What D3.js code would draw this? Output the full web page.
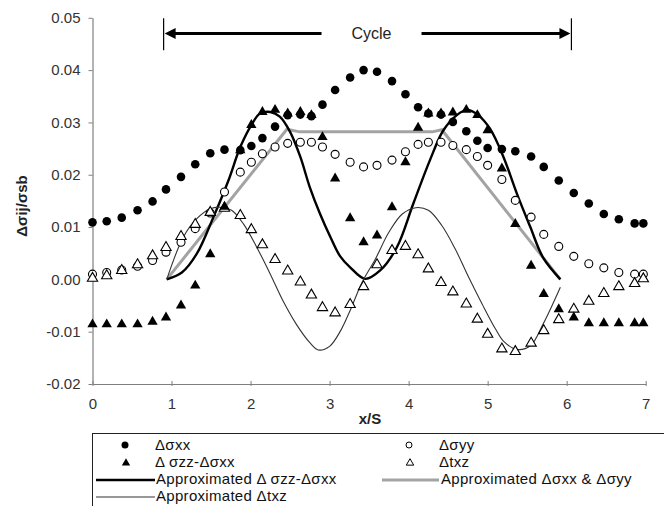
<!DOCTYPE html>
<html>
<head>
<meta charset="utf-8">
<script src="https://cdn.jsdelivr.net/npm/d3@7/dist/d3.min.js"></script>
<style>
  html, body { margin: 0; padding: 0; background: #fff; }
  svg { display: block; font-family: "Liberation Sans", Arial, sans-serif; }
</style>
</head>
<body>
<svg id="chart" width="664" height="506"></svg>
<script>
// ---- data ----
const xPos = [0, 0.18, 0.37, 0.57, 0.76, 0.93, 1.12, 1.30, 1.49, 1.67, 1.87, 2.01, 2.15, 2.31, 2.47, 2.63, 2.77, 2.91, 3.07, 3.26, 3.43, 3.60, 3.79, 3.96, 4.12, 4.25, 4.41, 4.56, 4.73, 4.87, 5.00, 5.18, 5.35, 5.55, 5.71, 5.90, 6.09, 6.28, 6.47, 6.66, 6.86, 6.97];

const dSxx = [0.0109, 0.0111, 0.0118, 0.0132, 0.0149, 0.0172, 0.0196, 0.0220, 0.0241, 0.0248, 0.0247, 0.0255, 0.0270, 0.0292, 0.0314, 0.0315, 0.0312, 0.0334, 0.0362, 0.0386, 0.0400, 0.0397, 0.0379, 0.0354, 0.0329, 0.0317, 0.0315, 0.0301, 0.0283, 0.0265, 0.0251, 0.0249, 0.0245, 0.0235, 0.0215, 0.0189, 0.0165, 0.0145, 0.0125, 0.0115, 0.0107, 0.0107];

const dSyy = [0.0010, 0.0013, 0.0018, 0.0025, 0.0036, 0.0052, 0.0071, 0.0097, 0.0127, 0.0167, 0.0205, 0.0224, 0.0240, 0.0253, 0.0260, 0.0262, 0.0262, 0.0253, 0.0239, 0.0224, 0.0215, 0.0218, 0.0228, 0.0244, 0.0258, 0.0262, 0.0262, 0.0256, 0.0248, 0.0235, 0.0218, 0.0191, 0.0151, 0.0119, 0.0086, 0.0063, 0.0044, 0.0030, 0.0022, 0.0013, 0.0010, 0.0010];

const dSzzMinusSxx = [-0.0086, -0.0086, -0.0086, -0.0086, -0.0081, -0.0073, -0.0050, -0.0012, 0.0048, 0.0139, 0.0247, 0.0295, 0.0320, 0.0324, 0.0317, 0.0320, 0.0314, 0.0272, 0.0193, 0.0117, 0.0071, 0.0084, 0.0138, 0.0224, 0.0290, 0.0317, 0.0317, 0.0319, 0.0324, 0.0314, 0.0285, 0.0212, 0.0106, 0.0026, -0.0028, -0.0057, -0.0073, -0.0084, -0.0084, -0.0084, -0.0084, -0.0084];

const dTxz = [0.0002, 0.0007, 0.0017, 0.0028, 0.0045, 0.0061, 0.0082, 0.0105, 0.0128, 0.0136, 0.0122, 0.0095, 0.0066, 0.0038, 0.0016, -0.0005, -0.0030, -0.0054, -0.0064, -0.0048, -0.0014, 0.0028, 0.0055, 0.0063, 0.0047, 0.0020, -0.0006, -0.0024, -0.0047, -0.0076, -0.0105, -0.0133, -0.0138, -0.0122, -0.0098, -0.0077, -0.0057, -0.0042, -0.0027, -0.0014, -0.0008, 0.0001];

// approximated curves, [x/S, value]
const approxZZ = [[0.94, 0.0000], [1.13, 0.0013], [1.32, 0.0049], [1.53, 0.0119], [1.72, 0.0189], [1.87, 0.0253], [2.01, 0.0295], [2.12, 0.0317], [2.25, 0.0320], [2.37, 0.0311], [2.50, 0.0282], [2.63, 0.0234], [2.75, 0.0176], [2.88, 0.0125], [3.01, 0.0081], [3.13, 0.0045], [3.26, 0.0023], [3.45, 0.0001], [3.64, 0.0017], [3.85, 0.0061], [4.06, 0.0145], [4.27, 0.0228], [4.44, 0.0285], [4.61, 0.0314], [4.74, 0.0324], [4.88, 0.0314], [5.03, 0.0288], [5.20, 0.0234], [5.37, 0.0164], [5.54, 0.0100], [5.70, 0.0042], [5.92, 0.0000]];

const approxXXYY = [[0.94, 0.0000], [2.46, 0.0287], [2.62, 0.0282], [4.30, 0.0282], [4.42, 0.0286], [5.92, 0.0000]];

const approxTxz = [[0.94, 0.0000], [1.15, 0.0081], [1.32, 0.0116], [1.49, 0.0135], [1.61, 0.0138], [1.76, 0.0132], [1.91, 0.0106], [2.08, 0.0061], [2.25, 0.0010], [2.41, -0.0041], [2.58, -0.0086], [2.75, -0.0121], [2.86, -0.0135], [3.00, -0.0128], [3.14, -0.0098], [3.27, -0.0056], [3.41, -0.0006], [3.58, 0.0039], [3.75, 0.0090], [3.92, 0.0125], [4.09, 0.0137], [4.25, 0.0132], [4.42, 0.0103], [4.59, 0.0058], [4.76, 0.0004], [4.93, -0.0047], [5.10, -0.0095], [5.20, -0.0118], [5.37, -0.0134], [5.54, -0.0127], [5.70, -0.0086], [5.92, -0.0015]];

const xTicks = [0, 1, 2, 3, 4, 5, 6, 7];
const xTickLabels = ["0", "1", "2", "3", "4", "5", "6", "7"];
const yTicks = [-0.02, -0.01, 0, 0.01, 0.02, 0.03, 0.04, 0.05];
const yTickLabels = ["-0.02", "-0.01", "0.00", "0.01", "0.02", "0.03", "0.04", "0.05"];

const cycleRange = [0.90, 6.06];
const cycleY = 0.047;
const cycleLabel = "Cycle";

const xTitle = "x/S";
const yTitle = "Δσij/σsb";

// ---- drawing ----
const svg = d3.select("#chart");
const x = d3.scaleLinear().domain([0, 7]).range([92.5, 645.7]);
const y = d3.scaleLinear().domain([-0.02, 0.05]).range([384, 17.8]);
const axisColor = "#7f7f7f";

// y axis
const yAxis = svg.append("g").attr("transform", `translate(${x(0)},0)`)
  .call(d3.axisLeft(y).tickValues(yTicks).tickFormat((d, i) => yTickLabels[i]).tickSize(4).tickPadding(8).tickSizeOuter(0));
yAxis.select(".domain").attr("stroke", axisColor).attr("stroke-width", 1.2);
yAxis.selectAll(".tick line").attr("stroke", axisColor);
yAxis.selectAll("text").attr("font-size", 15).attr("fill", "#333").attr("font-family", "Liberation Sans, Arial, sans-serif");

// x axis
const xAxis = svg.append("g").attr("transform", `translate(0,${y(-0.02)})`)
  .call(d3.axisBottom(x).tickValues(xTicks).tickFormat((d, i) => xTickLabels[i]).tickSize(4).tickPadding(10).tickSizeOuter(0));
xAxis.select(".domain").attr("stroke", axisColor).attr("stroke-width", 1.2);
xAxis.selectAll(".tick line").attr("stroke", axisColor).attr("y1", -3).attr("y2", 2);
xAxis.selectAll("text").attr("font-size", 15).attr("fill", "#333").attr("font-family", "Liberation Sans, Arial, sans-serif");

// axis titles
svg.append("text").attr("x", 370).attr("y", 424).attr("text-anchor", "middle")
  .attr("font-size", 15).attr("font-weight", "bold").attr("fill", "#222").text(xTitle);
svg.append("text").attr("transform", `translate(27,206) rotate(-90)`)
  .attr("text-anchor", "middle").attr("font-size", 15).attr("font-weight", "bold").attr("fill", "#222").text(yTitle);

// approximated lines
const lineGen = d3.line().x(d => x(d[0])).y(d => y(d[1]));
svg.append("path").datum(approxXXYY).attr("d", lineGen.curve(d3.curveLinear))
  .attr("fill", "none").attr("stroke", "#a3a3a3").attr("stroke-width", 3);
svg.append("path").datum(approxZZ).attr("d", lineGen.curve(d3.curveCatmullRom.alpha(0.5)))
  .attr("fill", "none").attr("stroke", "#000").attr("stroke-width", 2.4);
svg.append("path").datum(approxTxz).attr("d", lineGen.curve(d3.curveCatmullRom.alpha(0.5)))
  .attr("fill", "none").attr("stroke", "#333").attr("stroke-width", 1.1);

// markers
const tri = d3.symbol().type(d3.symbolTriangle).size(46);
const gM = svg.append("g");
gM.selectAll(".syy").data(dSyy).join("circle")
  .attr("cx", (d, i) => x(xPos[i])).attr("cy", d => y(d)).attr("r", 4).attr("fill", "#fff").attr("stroke", "#000").attr("stroke-width", 1.1);
gM.selectAll(".txz").data(dTxz).join("path")
  .attr("d", tri).attr("transform", (d, i) => `translate(${x(xPos[i])},${y(d)})`).attr("fill", "#fff").attr("stroke", "#000").attr("stroke-width", 1.1);
gM.selectAll(".sxx").data(dSxx).join("circle")
  .attr("cx", (d, i) => x(xPos[i])).attr("cy", d => y(d)).attr("r", 4.3).attr("fill", "#000");
gM.selectAll(".szz").data(dSzzMinusSxx).join("path")
  .attr("d", tri).attr("transform", (d, i) => `translate(${x(xPos[i])},${y(d)})`).attr("fill", "#000");

// cycle annotation
const cy0 = y(cycleY);
const cxL = x(cycleRange[0]), cxR = x(cycleRange[1]);
const cxMid = (cxL + cxR) / 2 + 4;
const gC = svg.append("g");
gC.append("line").attr("x1", cxL).attr("x2", cxL).attr("y1", y(0.0499)).attr("y2", y(0.0438)).attr("stroke", "#000").attr("stroke-width", 1.2);
gC.append("line").attr("x1", cxR).attr("x2", cxR).attr("y1", y(0.0499)).attr("y2", y(0.0438)).attr("stroke", "#000").attr("stroke-width", 1.2);
gC.append("line").attr("x1", cxL + 8).attr("x2", cxMid - 50).attr("y1", cy0).attr("y2", cy0).attr("stroke", "#000").attr("stroke-width", 3);
gC.append("line").attr("x1", cxMid + 50).attr("x2", cxR - 8).attr("y1", cy0).attr("y2", cy0).attr("stroke", "#000").attr("stroke-width", 3);
gC.append("path").attr("d", `M${cxL + 1},${cy0} L${cxL + 12},${cy0 - 5.5} L${cxL + 12},${cy0 + 5.5} Z`).attr("fill", "#000");
gC.append("path").attr("d", `M${cxR - 1},${cy0} L${cxR - 12},${cy0 - 5.5} L${cxR - 12},${cy0 + 5.5} Z`).attr("fill", "#000");
gC.append("text").attr("x", cxMid).attr("y", cy0).attr("dy", "0.35em").attr("text-anchor", "middle")
  .attr("font-size", 16).attr("fill", "#222").text(cycleLabel);

// legend
const lg = svg.append("g");
lg.append("rect").attr("x", 92.5).attr("y", 433.5).attr("width", 620).attr("height", 120)
  .attr("fill", "#fff").attr("stroke", "#222").attr("stroke-width", 1);
const lfs = 15;
const rows = [445, 462, 479, 496];
function ltext(xx, yy, t) {
  lg.append("text").attr("x", xx).attr("y", yy).attr("dy", "0.35em").attr("font-size", lfs)
    .attr("letter-spacing", 0.3).attr("fill", "#111").text(t);
}
lg.append("circle").attr("cx", 125).attr("cy", rows[0]).attr("r", 3.5).attr("fill", "#000");
ltext(155, rows[0], "Δσxx");
lg.append("circle").attr("cx", 409).attr("cy", rows[0]).attr("r", 3).attr("fill", "#fff").attr("stroke", "#000").attr("stroke-width", 1);
ltext(439, rows[0], "Δσyy");
const triS = d3.symbol().type(d3.symbolTriangle).size(30);
lg.append("path").attr("d", triS).attr("transform", `translate(126,${rows[1] + 1})`).attr("fill", "#000");
ltext(155, rows[1], "Δ σzz-Δσxx");
lg.append("path").attr("d", d3.symbol().type(d3.symbolTriangle).size(24)).attr("transform", `translate(410,${rows[1] + 1})`).attr("fill", "#fff").attr("stroke", "#000").attr("stroke-width", 1);
ltext(439, rows[1], "Δtxz");
lg.append("line").attr("x1", 96).attr("x2", 155).attr("y1", rows[2] + 1).attr("y2", rows[2] + 1).attr("stroke", "#000").attr("stroke-width", 2.4);
ltext(156, rows[2], "Approximated Δ σzz-Δσxx");
lg.append("line").attr("x1", 382).attr("x2", 439).attr("y1", rows[2] + 1).attr("y2", rows[2] + 1).attr("stroke", "#a3a3a3").attr("stroke-width", 3);
ltext(441, rows[2], "Approximated Δσxx & Δσyy");
lg.append("line").attr("x1", 96).attr("x2", 155).attr("y1", rows[3] + 1).attr("y2", rows[3] + 1).attr("stroke", "#333").attr("stroke-width", 1.1);
ltext(156, rows[3], "Approximated Δtxz");
</script>
</body>
</html>
